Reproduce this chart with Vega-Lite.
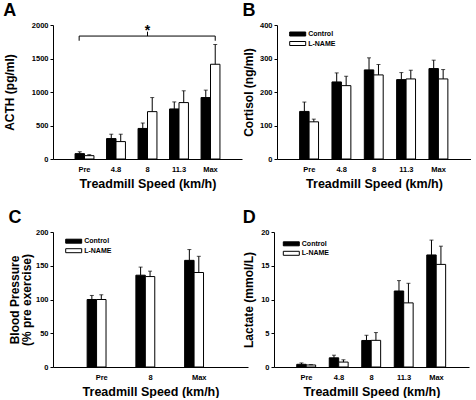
{
  "$schema": "https://vega.github.io/schema/vega-lite/v6.json",
  "padding": {"left": 3, "top": 2, "right": 0, "bottom": 0},
  "columns": 2,
  "align": "none",
  "spacing": {"row": 19, "column": -6},
  "resolve": {"scale": {"fill": "independent", "x": "independent", "y": "independent"}, "legend": {"fill": "independent"}},
  "config": {
    "font": "Liberation Sans",
    "view": {"stroke": null},
    "axis": {"labelFontWeight": "bold", "titleFontWeight": "bold", "labelColor": "black", "titleColor": "black", "domainColor": "black", "tickColor": "black", "grid": false, "labelFontSize": 7.5, "titleFontSize": 12.5, "labelOverlap": false, "labelFlush": false},
    "axisX": {"ticks": false, "labelAngle": 0, "labelPadding": 6, "titlePadding": 5},
    "axisY": {"tickSize": 3, "labelPadding": 2, "titleFontSize": 12, "format": "d"},
    "legend": {"labelFontSize": 7, "labelFontWeight": "bold", "labelColor": "black", "labelOffset": 6, "rowPadding": 0.5, "padding": 0, "symbolSize": 64, "symbolStrokeColor": "black", "symbolStrokeWidth": 1},
    "title": {"anchor": "start", "frame": "bounds", "fontSize": 18, "fontWeight": "bold", "color": "black", "offset": 1}
  },
  "datasets": {
    "acth": [
      {"speed": "Pre", "group": "Control", "mean": 80, "upper": 108},
      {"speed": "Pre", "group": "L-NAME", "mean": 50, "upper": 65},
      {"speed": "4.8", "group": "Control", "mean": 305, "upper": 370},
      {"speed": "4.8", "group": "L-NAME", "mean": 260, "upper": 370},
      {"speed": "8", "group": "Control", "mean": 456, "upper": 537},
      {"speed": "8", "group": "L-NAME", "mean": 707, "upper": 917},
      {"speed": "11.3", "group": "Control", "mean": 747, "upper": 852},
      {"speed": "11.3", "group": "L-NAME", "mean": 842, "upper": 1018},
      {"speed": "Max", "group": "Control", "mean": 917, "upper": 1028},
      {"speed": "Max", "group": "L-NAME", "mean": 1414, "upper": 1709}
    ],
    "bracket": [
      {"x": 0.83, "x2": 5.15, "y": 1835, "y2": 1835},
      {"x": 0.83, "x2": 0.83, "y": 1765, "y2": 1835},
      {"x": 5.15, "x2": 5.15, "y": 1765, "y2": 1835},
      {"x": 3, "x2": 3, "y": 1835, "y2": 1900}
    ],
    "star": [{"x": 3, "y": 2000, "label": "*"}],
    "cortisol": [
      {"speed": "Pre", "group": "Control", "mean": 142, "upper": 170},
      {"speed": "Pre", "group": "L-NAME", "mean": 111, "upper": 119},
      {"speed": "4.8", "group": "Control", "mean": 230, "upper": 257},
      {"speed": "4.8", "group": "L-NAME", "mean": 219, "upper": 247},
      {"speed": "8", "group": "Control", "mean": 266, "upper": 302},
      {"speed": "8", "group": "L-NAME", "mean": 251, "upper": 282},
      {"speed": "11.3", "group": "Control", "mean": 237, "upper": 258},
      {"speed": "11.3", "group": "L-NAME", "mean": 239, "upper": 265},
      {"speed": "Max", "group": "Control", "mean": 270, "upper": 295},
      {"speed": "Max", "group": "L-NAME", "mean": 239, "upper": 267}
    ],
    "bp": [
      {"speed": "Pre", "group": "Control", "mean": 100, "upper": 106},
      {"speed": "Pre", "group": "L-NAME", "mean": 100, "upper": 107},
      {"speed": "8", "group": "Control", "mean": 136, "upper": 148},
      {"speed": "8", "group": "L-NAME", "mean": 134, "upper": 142},
      {"speed": "Max", "group": "Control", "mean": 158, "upper": 174},
      {"speed": "Max", "group": "L-NAME", "mean": 140, "upper": 164}
    ],
    "lactate": [
      {"speed": "Pre", "group": "Control", "mean": 0.4, "upper": 0.6},
      {"speed": "Pre", "group": "L-NAME", "mean": 0.3, "upper": 0.35},
      {"speed": "4.8", "group": "Control", "mean": 1.36, "upper": 1.75},
      {"speed": "4.8", "group": "L-NAME", "mean": 0.73, "upper": 1.07},
      {"speed": "8", "group": "Control", "mean": 3.93, "upper": 4.7},
      {"speed": "8", "group": "L-NAME", "mean": 3.95, "upper": 5.1},
      {"speed": "11.3", "group": "Control", "mean": 11.26, "upper": 12.8},
      {"speed": "11.3", "group": "L-NAME", "mean": 9.5, "upper": 12.4},
      {"speed": "Max", "group": "Control", "mean": 16.6, "upper": 18.8},
      {"speed": "Max", "group": "L-NAME", "mean": 15.2, "upper": 17.9}
    ]
  },
  "concat": [
    {
      "width": 189, "height": 134,
      "title": "A",
      "resolve": {"scale": {"x": "independent"}},
      "layer": [
        {
          "layer": [
            {"mark": {"type": "bar", "stroke": "black", "strokeWidth": 1},
             "encoding": {"y": {"field": "mean"}, "fill": {"field": "group", "type": "nominal", "scale": {"domain": ["Control", "L-NAME"], "range": ["black", "white"]}, "legend": null}}},
            {"mark": {"type": "rule", "color": "black"}, "encoding": {"y": {"field": "mean"}, "y2": {"field": "upper"}}},
            {"mark": {"type": "tick", "color": "black", "size": 4, "thickness": 1}, "encoding": {"y": {"field": "upper"}}}
          ],
          "data": {"name": "acth"},
          "encoding": {
            "x": {"field": "speed", "type": "nominal", "sort": ["Pre", "4.8", "8", "11.3", "Max"], "scale": {"paddingInner": 0.4, "paddingOuter": 0.7}, "title": "Treadmill Speed (km/h)"},
            "xOffset": {"field": "group", "type": "nominal", "sort": ["Control", "L-NAME"], "scale": {"paddingInner": 0, "paddingOuter": 0}},
            "y": {"type": "quantitative", "scale": {"domain": [0, 2000]}, "axis": {"values": [0, 500, 1000, 1500, 2000], "titlePadding": 15}, "title": "ACTH (pg/ml)"}
          }
        },
        {
          "data": {"name": "bracket"},
          "mark": {"type": "rule", "color": "black", "strokeWidth": 1},
          "encoding": {
            "x": {"field": "x", "type": "quantitative", "scale": {"domain": [0, 6], "nice": false}, "axis": null},
            "x2": {"field": "x2"},
            "y": {"field": "y", "type": "quantitative", "scale": {"domain": [0, 2000]}, "axis": {"values": [0, 500, 1000, 1500, 2000], "titlePadding": 15}, "title": "ACTH (pg/ml)"},
            "y2": {"field": "y2"}
          }
        },
        {
          "data": {"name": "star"},
          "mark": {"type": "text", "fontSize": 14, "fontWeight": "bold", "baseline": "top", "dy": -1, "color": "black"},
          "encoding": {
            "x": {"field": "x", "type": "quantitative", "scale": {"domain": [0, 6], "nice": false}, "axis": null},
            "y": {"field": "y", "type": "quantitative", "scale": {"domain": [0, 2000]}, "axis": {"values": [0, 500, 1000, 1500, 2000], "titlePadding": 15}, "title": "ACTH (pg/ml)"},
            "text": {"field": "label"}
          }
        }
      ]
    },
    {
      "width": 194, "height": 134,
      "title": "B",
      "data": {"name": "cortisol"},
      "encoding": {
        "x": {"field": "speed", "type": "nominal", "sort": ["Pre", "4.8", "8", "11.3", "Max"], "scale": {"paddingInner": 0.4, "paddingOuter": 0.7}, "title": "Treadmill Speed (km/h)"},
        "xOffset": {"field": "group", "type": "nominal", "sort": ["Control", "L-NAME"], "scale": {"paddingInner": 0, "paddingOuter": 0}},
        "y": {"type": "quantitative", "scale": {"domain": [0, 400]}, "axis": {"values": [0, 100, 200, 300, 400], "titlePadding": 4}, "title": "Cortisol (ng/ml)"}
      },
      "layer": [
        {"mark": {"type": "bar", "stroke": "black", "strokeWidth": 1},
         "encoding": {"y": {"field": "mean"}, "fill": {"field": "group", "type": "nominal", "scale": {"domain": ["Control", "L-NAME"], "range": ["black", "white"]}, "legend": {"title": null, "orient": "none", "legendX": 16.2, "legendY": 4.5, "symbolType": "M-2,-0.5H2V0.5H-2Z", "symbolSize": 64, "symbolStrokeColor": "black"}}}},
        {"mark": {"type": "rule", "color": "black"}, "encoding": {"y": {"field": "mean"}, "y2": {"field": "upper"}}},
        {"mark": {"type": "tick", "color": "black", "size": 4, "thickness": 1}, "encoding": {"y": {"field": "upper"}}}
      ]
    },
    {
      "width": 195, "height": 135,
      "title": "C",
      "data": {"name": "bp"},
      "encoding": {
        "x": {"field": "speed", "type": "nominal", "sort": ["Pre", "8", "Max"], "scale": {"paddingInner": 0.4, "paddingOuter": 0.7}, "title": "Treadmill Speed (km/h)"},
        "xOffset": {"field": "group", "type": "nominal", "sort": ["Control", "L-NAME"], "scale": {"paddingInner": 0, "paddingOuter": 0}},
        "y": {"type": "quantitative", "scale": {"domain": [0, 200]}, "axis": {"values": [0, 50, 100, 150, 200], "titlePadding": 2, "titleLineHeight": 12}, "title": ["Blood Pressure", "(% pre exercise)"]}
      },
      "layer": [
        {"mark": {"type": "bar", "stroke": "black", "strokeWidth": 1},
         "encoding": {"y": {"field": "mean"}, "fill": {"field": "group", "type": "nominal", "scale": {"domain": ["Control", "L-NAME"], "range": ["black", "white"]}, "legend": {"title": null, "orient": "none", "legendX": 16.2, "legendY": 4.7, "symbolType": "M-2,-0.5H2V0.5H-2Z", "symbolSize": 64, "symbolStrokeColor": "black"}}}},
        {"mark": {"type": "rule", "color": "black"}, "encoding": {"y": {"field": "mean"}, "y2": {"field": "upper"}}},
        {"mark": {"type": "tick", "color": "black", "size": 4, "thickness": 1}, "encoding": {"y": {"field": "upper"}}}
      ]
    },
    {
      "width": 195, "height": 135,
      "title": "D",
      "data": {"name": "lactate"},
      "encoding": {
        "x": {"field": "speed", "type": "nominal", "sort": ["Pre", "4.8", "8", "11.3", "Max"], "scale": {"paddingInner": 0.4, "paddingOuter": 0.7}, "title": "Treadmill Speed (km/h)"},
        "xOffset": {"field": "group", "type": "nominal", "sort": ["Control", "L-NAME"], "scale": {"paddingInner": 0, "paddingOuter": 0}},
        "y": {"type": "quantitative", "scale": {"domain": [0, 20]}, "axis": {"values": [0, 5, 10, 15, 20], "titlePadding": 5}, "title": "Lactate (mmol/L)"}
      },
      "layer": [
        {"mark": {"type": "bar", "stroke": "black", "strokeWidth": 1},
         "encoding": {"y": {"field": "mean"}, "fill": {"field": "group", "type": "nominal", "scale": {"domain": ["Control", "L-NAME"], "range": ["black", "white"]}, "legend": {"title": null, "orient": "none", "legendX": 12.8, "legendY": 7.3, "symbolType": "M-2,-0.5H2V0.5H-2Z", "symbolSize": 64, "symbolStrokeColor": "black"}}}},
        {"mark": {"type": "rule", "color": "black"}, "encoding": {"y": {"field": "mean"}, "y2": {"field": "upper"}}},
        {"mark": {"type": "tick", "color": "black", "size": 4, "thickness": 1}, "encoding": {"y": {"field": "upper"}}}
      ]
    }
  ]
}
